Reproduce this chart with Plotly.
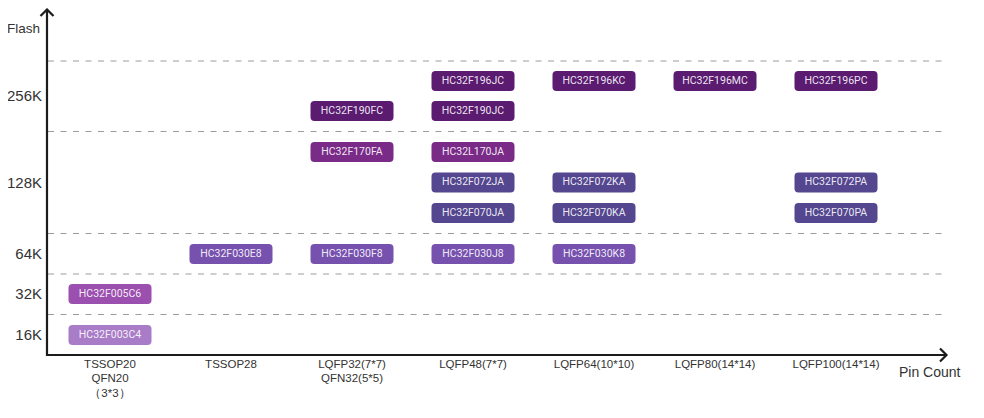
import plotly.graph_objects as go

# ---------------- data ----------------
packages = ["TSSOP20<br>QFN20<br>（3*3）", "TSSOP28", "LQFP32(7*7)<br>QFN32(5*5)",
            "LQFP48(7*7)", "LQFP64(10*10)", "LQFP80(14*14)", "LQFP100(14*14)"]
flash_tiers = ["16K", "32K", "64K", "128K", "256K"]

chip_names = ["HC32F003C4", "HC32F005C6",
              "HC32F030E8",
              "HC32F030F8", "HC32F170FA", "HC32F190FC",
              "HC32F030J8", "HC32F070JA", "HC32F072JA", "HC32L170JA", "HC32F190JC", "HC32F196JC",
              "HC32F030K8", "HC32F070KA", "HC32F072KA", "HC32F196KC",
              "HC32F196MC",
              "HC32F070PA", "HC32F072PA", "HC32F196PC"]
chip_package = [0, 0,
                1,
                2, 2, 2,
                3, 3, 3, 3, 3, 3,
                4, 4, 4, 4,
                5,
                6, 6, 6]
chip_flash = ["16K", "32K",
              "64K",
              "64K", "128K", "256K",
              "64K", "128K", "128K", "128K", "256K", "256K",
              "64K", "128K", "128K", "256K",
              "256K",
              "128K", "128K", "256K"]
chip_slot = [0, 0,
             0,
             0, 2, 0,
             0, 0, 1, 2, 0, 1,
             0, 0, 1, 1,
             1,
             0, 1, 1]
chip_family = ["F003", "F005",
               "F030",
               "F030", "170", "F19x",
               "F030", "F07x", "F07x", "170", "F19x", "F19x",
               "F030", "F07x", "F07x", "F19x",
               "F19x",
               "F07x", "F07x", "F19x"]

# ---------------- styles / layout ----------------
family_colors = {"F19x": "#5a1b70", "170": "#7a2b88", "F07x": "#54468f",
                 "F030": "#7651ae", "F005": "#9b4faf", "F003": "#a97cc7"}
# row centres (axis units above the x axis) for each (tier, slot)
tier_slots = {"16K": [20], "32K": [61], "64K": [101],
              "128K": [142, 172.5, 203], "256K": [244, 274]}
BOX_H = 20
BOX_W = 0.686

OFF = 8                     # page body margin
W, H = 984 - 2 * OFF, 418 - 2 * OFF
AX_X, AX_Y = 47, 355        # axis position in page pixels
RIGHT = 945
L, T = AX_X - OFF, 8 - OFF
R = W - (RIGHT - OFF)
B = H - (AX_Y - OFF)
PW, PH = W - L - R, H - T - B


def px(x):
    return (x - OFF - L) / PW


def py(y):
    return (H - B - (y - OFF)) / PH


ys = [tier_slots[f][s] for f, s in zip(chip_flash, chip_slot)]
cols = [family_colors[c] for c in chip_family]

fig = go.Figure()
fig.add_trace(go.Bar(
    x=chip_package, y=[BOX_H] * len(ys), base=[v - BOX_H / 2 for v in ys],
    width=BOX_W, marker=dict(color=cols, line=dict(width=0), cornerradius=4),
    hoverinfo="skip", showlegend=False))
fig.add_trace(go.Scatter(
    x=chip_package, y=ys, mode="text", text=chip_names,
    textfont=dict(family="Roboto", size=10.5, color="rgba(255,255,255,0.9)"),
    hoverinfo="skip", showlegend=False))

shapes = []
bounds = []
order = flash_tiers
for lo, hi in zip(order[:-1], order[1:]):
    bounds.append((max(tier_slots[lo]) + min(tier_slots[hi])) / 2)
bounds.append(max(tier_slots[order[-1]]) + BOX_H)
for b in bounds:
    shapes.append(dict(type="line", xref="paper", yref="y", x0=px(48), x1=px(945),
                       y0=b, y1=b, line=dict(color="#9c9c9c", width=1, dash="6px,6.5px")))

axis_line = dict(color="#1c1c1c", width=2.2)
shapes.append(dict(type="line", xref="paper", yref="paper", x0=px(47), x1=px(47),
                   y0=py(356), y1=py(9.5), line=axis_line))
shapes.append(dict(type="path", xref="paper", yref="paper",
                   path=f"M {px(40.5)},{py(16)} L {px(47)},{py(9.5)} L {px(53.5)},{py(16)}",
                   line=axis_line))
shapes.append(dict(type="line", xref="paper", yref="paper", x0=px(46), x1=px(946),
                   y0=py(355), y1=py(355), line=axis_line))
shapes.append(dict(type="path", xref="paper", yref="paper",
                   path=f"M {px(940)},{py(348.5)} L {px(946.5)},{py(355)} L {px(940)},{py(361.5)}",
                   line=axis_line))

tier_centres = [sum(tier_slots[f]) / len(tier_slots[f]) for f in flash_tiers]

fig.update_layout(
    width=W, height=H, margin=dict(l=L, r=R, t=T, b=B, pad=0),
    paper_bgcolor="white", plot_bgcolor="white",
    barmode="overlay", showlegend=False,
    shapes=shapes,
    xaxis=dict(range=[(AX_X - 110) / 121, (RIGHT - 110) / 121], tickvals=list(range(len(packages))),
               ticktext=packages, showgrid=False, zeroline=False, showline=False, ticks="",
               tickfont=dict(family="Liberation Sans", size=11.5, color="#333333"),
               fixedrange=True),
    yaxis=dict(range=[0, PH], tickvals=tier_centres, ticktext=flash_tiers,
               showgrid=False, zeroline=False, showline=False, ticks="",
               ticklabelstandoff=4,
               tickfont=dict(family="Liberation Sans", size=15, color="#333333"),
               fixedrange=True),
    annotations=[
        dict(text="Flash", xref="paper", yref="paper", x=px(42), y=py(29),
             xanchor="right", yanchor="middle", showarrow=False,
             font=dict(family="Liberation Sans", size=13.5, color="#333333")),
        dict(text="Pin Count", xref="paper", yref="paper", x=px(930), y=py(372),
             xanchor="center", yanchor="middle", showarrow=False,
             font=dict(family="Liberation Sans", size=14, color="#333333")),
    ],
)

fig.write_html("out.html")
